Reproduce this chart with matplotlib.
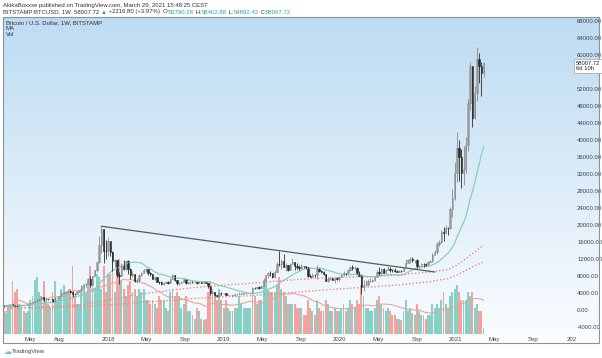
import numpy as np
import pandas as pd
import matplotlib
matplotlib.use("Agg")
import matplotlib.pyplot as plt
import matplotlib.dates as mdates
from matplotlib.patches import Rectangle

plt.rcParams["font.family"] = ["Liberation Sans", "DejaVu Sans"]

# ── weekly candles BITSTAMP:BTCUSD (week starting Monday) ────────────
FIRST_DATE = "2017-02-06"
FIRST_OPEN = 1020

close_2017 = [1000, 1050, 1155, 1270, 1230, 970, 965, 1085, 1180, 1175, 1250, 1350,
              1550, 1770, 2050, 2190, 2530, 2960, 2520, 2590, 2520, 2520, 1930, 2750,
              2750, 3230, 4060, 4080, 4350, 4580, 4320, 3700, 3660, 4400, 4610, 5700,
              6000, 6150, 7380, 5900, 8040, 9300, 11250, 15300, 19150, 13900, 13850]
high_2017 = [1065, 1060, 1190, 1290, 1330, 1260, 1070, 1100, 1210, 1220, 1265, 1350,
             1620, 1790, 2100, 2500, 2600, 2990, 2980, 2780, 2600, 2650, 2530, 2950,
             2850, 3300, 4200, 4480, 4450, 4980, 4700, 4380, 4110, 4400, 4620, 5850,
             6190, 6300, 7600, 7880, 8100, 9500, 11400, 17300, 19666, 19000, 16500]
low_2017 = [945, 990, 1050, 1150, 975, 950, 890, 935, 1050, 1130, 1160, 1240,
            1350, 1550, 1700, 1850, 2100, 2450, 2100, 2450, 2330, 2470, 1840, 1910,
            2480, 2640, 3200, 3850, 3950, 4300, 3980, 2970, 3550, 3650, 4120, 4580,
            5100, 5420, 6100, 5500, 5850, 7950, 9000, 11100, 13500, 11000, 12000]

close_2018 = [16300, 13600, 11600, 11800, 8200, 8100, 10400, 9600, 11500, 9550, 8200, 8450,
              6850, 7020, 8350, 8800, 9400, 9650, 8700, 8500, 7350, 7700, 6700, 6500,
              6150, 6350, 6700, 6350, 7400, 8200, 7000, 6300, 6400, 6700, 7250, 6250,
              6500, 6700, 6600, 6600, 6300, 6450, 6400, 6450, 6400, 5600, 4000, 4150,
              3600, 3250, 4000, 3900, 4050]
high_2018 = [17250, 16300, 13900, 12000, 11800, 8900, 11000, 11750, 11500, 11700, 9900, 9100,
             8500, 7500, 8400, 9000, 9750, 9900, 9700, 8850, 8550, 7800, 7750, 6900,
             6800, 6500, 6800, 6800, 7600, 8500, 8250, 7150, 6600, 6800, 7400, 7400,
             6600, 6800, 6800, 6650, 6700, 6800, 6550, 6500, 6550, 6400, 5600, 4400,
             4200, 3600, 4200, 4250, 4100]
low_2018 = [12750, 12800, 9200, 10000, 7800, 6000, 8100, 9300, 9400, 8400, 7300, 7800,
            6550, 6450, 6600, 7880, 8700, 9000, 8300, 7950, 7250, 7050, 6650, 6150,
            5770, 5800, 6300, 6100, 6300, 7400, 6900, 5900, 5880, 6250, 6700, 6150,
            6100, 6200, 6400, 6450, 6100, 6300, 6350, 6250, 6330, 5230, 3500, 3650,
            3250, 3150, 3250, 3550, 3650]

close_2019 = [3520, 3530, 3550, 3420, 3650, 3680, 3800, 3800, 3920, 4000, 4000, 4100,
              5200, 5150, 5300, 5270, 5750, 7000, 8200, 8750, 8700, 7650, 8980, 10850,
              10800, 11450, 10200, 10550, 9500, 10800, 11400, 10300, 10150, 9800, 10400, 10300,
              10000, 8050, 7850, 8300, 8200, 9550, 9200, 9050, 8500, 6900, 7400, 7500,
              7100, 7500, 7400, 7750]
high_2019 = [4100, 3800, 3620, 3600, 3700, 3750, 4200, 3900, 3950, 4050, 4100, 4150,
             5350, 5450, 5350, 5650, 5900, 7500, 8350, 8850, 9100, 8800, 9350, 11300,
             13880, 12000, 13150, 11000, 10700, 11100, 12300, 11400, 10950, 10650, 10900, 10450,
             10350, 10050, 8450, 8700, 8400, 10500, 9950, 9500, 9100, 8500, 7850, 7750,
             7550, 7550, 7700, 7800]
low_2019 = [3450, 3500, 3500, 3350, 3380, 3550, 3650, 3700, 3700, 3850, 3900, 3900,
            4100, 4950, 5000, 5000, 5200, 5700, 6600, 7450, 8000, 7450, 7500, 8950,
            10300, 9700, 10100, 9100, 9100, 9400, 10900, 9500, 9700, 9350, 9750, 9950,
            9700, 7750, 7700, 7850, 7850, 7300, 8950, 8700, 8350, 6800, 6550, 7150,
            7000, 6450, 7050, 6900]

close_2020 = [8200, 8700, 8600, 9350, 10150, 9900, 9950, 8550, 8050, 5400, 5850, 5900,
              6780, 6900, 7150, 7700, 8900, 8750, 9700, 8750, 9450, 9750, 9350, 9300,
              9120, 9050, 9250, 9200, 9950, 11100, 11700, 11900, 11650, 11700, 10250, 10350,
              10900, 10750, 10650, 11350, 11500, 13050, 13750, 15450, 15950, 18400, 18200, 19350,
              19250, 23850, 26300, 32200]
high_2020 = [8450, 9200, 8800, 9600, 10200, 10500, 10250, 10000, 9200, 8150, 6950, 6950,
             7200, 7450, 7300, 7750, 9450, 10000, 9950, 9850, 9700, 10400, 10000, 9600,
             9800, 9300, 9450, 9350, 10100, 12000, 11900, 12450, 12450, 11800, 12100, 10600,
             11100, 10950, 10950, 11450, 11700, 13350, 14100, 15950, 16500, 18800, 19450, 19900,
             19450, 24300, 28400, 34800]
low_2020 = [7700, 8100, 8250, 8550, 9150, 9500, 9300, 8400, 7900, 3850, 4450, 5700,
            5850, 6700, 6500, 6800, 7650, 8150, 8200, 8700, 8650, 9300, 8950, 9050,
            8850, 8900, 9050, 9050, 9150, 9900, 11000, 11150, 11400, 11150, 9850, 9900,
            10250, 10150, 10400, 10550, 11200, 11400, 12950, 13200, 15050, 15850, 16200, 18100,
            17600, 19000, 21800, 25800]

close_2021 = [38200, 36000, 32300, 33100, 38900, 48600, 57400, 45200, 51000, 59000, 57400,
              55790.28, 58007.72]
high_2021 = [41950, 40100, 37850, 38500, 40800, 49700, 58350, 57500, 52600, 61800, 60500,
             58300, 58402.88]
low_2021 = [30100, 30300, 28800, 29300, 32300, 37400, 47000, 43000, 44900, 49250, 53300,
            50400, 54892.42]

# weekly volume, thousand BTC
vol_2017 = [30, 28, 35, 40, 70, 55, 60, 40, 35, 30, 28, 30, 45, 50, 72, 75, 55, 50, 70, 45,
            40, 35, 55, 70, 45, 50, 60, 65, 55, 55, 60, 90, 50, 40, 40, 60, 65, 55, 70, 90,
            70, 60, 80, 75, 60, 90, 55]
vol_2018 = [80, 80, 95, 55, 75, 100, 70, 60, 50, 65, 70, 55, 60, 50, 60, 55, 60, 45, 45, 40,
            45, 40, 35, 50, 45, 45, 35, 30, 55, 60, 50, 55, 50, 35, 40, 50, 30, 30, 25, 20,
            35, 30, 20, 18, 20, 55, 70, 60, 55, 45, 60, 45, 35]
vol_2019 = [45, 35, 30, 30, 35, 35, 50, 40, 35, 35, 35, 35, 60, 50, 40, 45, 45, 70, 75, 60,
            55, 55, 55, 65, 75, 60, 55, 50, 40, 40, 40, 40, 35, 35, 35, 25, 25, 45, 35, 30,
            25, 45, 35, 30, 30, 45, 40, 30, 30, 35, 30, 30]
vol_2020 = [35, 40, 30, 35, 45, 40, 35, 45, 40, 65, 50, 35, 35, 30, 30, 35, 45, 50, 40, 35,
            30, 35, 30, 25, 25, 20, 20, 18, 30, 45, 30, 35, 28, 25, 40, 30, 25, 25, 20, 25,
            25, 40, 35, 40, 35, 45, 55, 40, 35, 50, 55, 60]
vol_2021 = [65, 55, 45, 45, 45, 55, 50, 55, 35, 40, 30, 30, 8]

# long moving averages
ma_dates = ["2017-02-06", "2017-06-05", "2017-10-02", "2018-01-01", "2018-04-02",
            "2018-07-02", "2018-10-01", "2019-01-07", "2019-04-01", "2019-07-01",
            "2019-10-07", "2020-01-06", "2020-04-06", "2020-07-06", "2020-10-05",
            "2020-12-07", "2021-01-04", "2021-02-01", "2021-03-01", "2021-03-29"]
ma100 = [480, 700, 1200, 2300, 3600, 4500, 5300, 5900, 6300, 6900,
         7400, 7700, 7800, 8300, 8900, 9500, 10500, 12000, 13600, 15300]
ma200 = [450, 550, 800, 1200, 1700, 2200, 2700, 3100, 3400, 3900,
         4500, 5000, 5400, 5900, 6600, 7400, 8200, 9300, 10400, 11300]

# trend line drawn on the chart
trend_dates = ["2017-12-11", "2020-10-26"]
trend_vals = [19700, 8950]

price_ticks = list(range(-4000, 68001, 4000))
date_ticks = ["2017-05-01", "2017-08-01", "2018-01-01", "2018-05-01", "2018-09-01",
              "2019-01-01", "2019-05-01", "2019-09-01", "2020-01-01", "2020-05-01",
              "2020-09-01", "2021-01-01", "2021-05-01", "2021-09-01", "2022-01-01"]
date_labels = ["May", "Aug", "2018", "May", "Sep", "2019", "May", "Sep", "2020",
               "May", "Sep", "2021", "May", "Sep", "202"]

# ── build ─────────────────────────────────────────────
close = np.array(close_2017 + close_2018 + close_2019 + close_2020 + close_2021)
high = np.array(high_2017 + high_2018 + high_2019 + high_2020 + high_2021)
low = np.array(low_2017 + low_2018 + low_2019 + low_2020 + low_2021)
opn = np.concatenate([[FIRST_OPEN], close[:-1]])
vol = np.array(vol_2017 + vol_2018 + vol_2019 + vol_2020 + vol_2021)
dates = pd.date_range(FIRST_DATE, periods=len(close), freq="W-MON")
x = mdates.date2num(dates)
up = close >= opn

W, H = 602, 358
fig = plt.figure(figsize=(W / 100, H / 100), dpi=100)
fig.patch.set_facecolor("white")

def fx(px):
    return px / W

def fy(py):
    return 1 - py / H

# gradient background
bg = fig.add_axes([fx(3), fy(343), fx(596), 326 / H], zorder=-10)
top_c = np.array([0.74, 0.86, 0.95])
bot_c = np.array([0.985, 0.992, 1.0])
t = np.linspace(0, 1, 256)[:, None]
grad = top_c * (1 - t[..., None]) + bot_c * t[..., None]
grad = np.repeat(grad, 2, axis=1)
bg.imshow(grad, aspect="auto", extent=[0, 1, 0, 1])
bg.axis("off")

ax = fig.add_axes([fx(3), fy(334), fx(570), 317 / H])
axv = ax.twinx()
ax.set_zorder(axv.get_zorder() + 1)
ax.patch.set_visible(False)
axv.patch.set_visible(False)

# volume
vcol = np.where(up, "#86d0c6", "#f6a19c")
axv.bar(x, vol, width=6, color=vcol, linewidth=0)
vma = pd.Series(vol).rolling(20, min_periods=1).mean()
axv.plot(x, vma, color="#eda39c", lw=0.8)
axv.set_ylim(0, 420)
axv.axis("off")

# moving averages
ma20 = pd.Series(close).rolling(20, min_periods=1).mean()
ax.plot(x, ma20, color="#86cfc3", lw=0.9)
mx = mdates.date2num(pd.to_datetime(ma_dates))
ax.plot(mx, ma100, color="#ee8a85", lw=1.0, ls=(0, (1, 1.5)))
ax.plot(mx, ma200, color="#ee8a85", lw=1.0, ls=(0, (1, 1.5)))

# trend line
ax.plot(mdates.date2num(pd.to_datetime(trend_dates)), trend_vals, color="#5a5a5a", lw=0.9)

# candles
wick_c = np.where(up, "#8a8a8a", "#2b2b2b")
ax.vlines(x, low, high, colors=wick_c, lw=0.6)
body_lo = np.minimum(opn, close)
body_h = np.maximum(np.abs(close - opn), 80)
ax.bar(x, body_h, bottom=body_lo, width=4.5,
       color=np.where(up, "#d4d4d4", "#2b2b2b"),
       edgecolor=np.where(up, "#8a8a8a", "#2b2b2b"), linewidth=0.4)

ax.set_xlim(mdates.date2num(pd.Timestamp("2017-02-04")),
            mdates.date2num(pd.Timestamp("2022-01-05")))
ax.set_ylim(-5650, 68940)
for s in ax.spines.values():
    s.set_visible(False)

ax.yaxis.tick_right()
ax.set_yticks(price_ticks)
ax.set_yticklabels([f"{v:.2f}" for v in price_ticks])
ax.set_xticks(mdates.date2num(pd.to_datetime(date_ticks)))
ax.set_xticklabels(date_labels)
ax.tick_params(axis="y", length=0, pad=3, labelsize=4.3, labelcolor="#444")
ax.tick_params(axis="x", length=0, pad=2, labelsize=4.3, labelcolor="#444")

# frame
fig.patches.append(Rectangle((fx(3), fy(343)), fx(596), 326 / H, transform=fig.transFigure,
                             fill=False, edgecolor="#8e9298", lw=0.8))

# header
fs = 4.3
fig.text(fx(3), fy(5), "AkikaBoxxxe published on TradingView.com, March 29, 2021 15:48:25 CEST",
         fontsize=fs, va="center", color="#333")

renderer = fig.canvas.get_renderer()
parts = [("BITSTAMP:BTCUSD, 1W  58007.72 ", "#333"), ("\u25b2", "#26a69a"),
         (" +2216.80 (+3.97%)  O:", "#333"), ("55790.28", "#26a69a"),
         (" H:", "#333"), ("58402.88", "#26a69a"), (" L:", "#333"),
         ("54892.42", "#26a69a"), (" C:", "#333"), ("58007.72", "#26a69a")]
xpos = fx(3)
for txt, col in parts:
    tt = fig.text(xpos, fy(12), txt, fontsize=fs, va="center", color=col)
    bb = tt.get_window_extent(renderer)
    xpos += bb.width / W

for i, txt in enumerate(["Bitcoin / U.S. Dollar, 1W, BITSTAMP", "MA", "Vol"]):
    fig.text(fx(6), fy(23 + 6 * i), txt, fontsize=fs, va="center", color="#333")

# last price label
fig.text(fx(576), fy(66), "58007.72\n6d 10h", fontsize=4.2, va="center", ha="left",
         color="#222", linespacing=1.1,
         bbox=dict(boxstyle="square,pad=0.3", fc="white", ec="#9aa", lw=0.5))

# footer logo
fig.text(fx(4), fy(351), "\u2601", fontsize=6, va="center", color="#7fb7d6",
         family="DejaVu Sans")
fig.text(fx(12), fy(351), "TradingView", fontsize=4.3, va="center", color="#444")

fig.savefig("out.png", dpi=100)
